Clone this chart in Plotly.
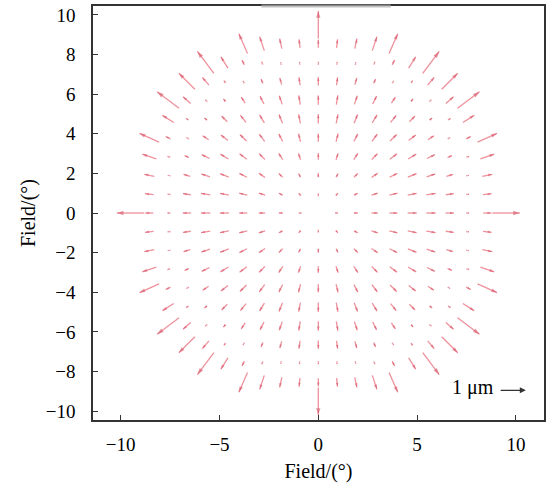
import math
import plotly.graph_objects as go

# Field sample positions (degrees) along each axis, index -10..10
field_pts = [-9.5, -8.55, -7.6, -6.65, -5.7, -4.75, -3.8, -2.85, -1.9, -0.95, 0.0,
             0.95, 1.9, 2.85, 3.8, 4.75, 5.7, 6.65, 7.6, 8.55, 9.5]

# Distortion magnitude (um), one quadrant (row |j|, column |i|)
mag_row_0 = [0.00, 0.06, 0.15, 0.24, 0.30, 0.34, 0.35, 0.31, 0.05, 0.30, 1.03]
mag_row_1 = [0.06, 0.09, 0.16, 0.25, 0.31, 0.34, 0.35, 0.30, 0.04, 0.32]
mag_row_2 = [0.15, 0.16, 0.21, 0.28, 0.32, 0.35, 0.34, 0.26, 0.03, 0.38]
mag_row_3 = [0.24, 0.25, 0.28, 0.31, 0.34, 0.35, 0.33, 0.18, 0.05, 0.55]
mag_row_4 = [0.30, 0.31, 0.32, 0.34, 0.35, 0.34, 0.27, 0.04, 0.20, 0.80]
mag_row_5 = [0.34, 0.34, 0.35, 0.35, 0.34, 0.30, 0.12, 0.07, 0.50]
mag_row_6 = [0.35, 0.35, 0.34, 0.33, 0.27, 0.12, 0.04, 0.38, 1.03]
mag_row_7 = [0.31, 0.30, 0.26, 0.18, 0.04, 0.07, 0.38, 0.85]
mag_row_8 = [0.05, 0.04, 0.03, 0.05, 0.20, 0.50, 1.03]
mag_row_9 = [0.30, 0.32, 0.38, 0.55, 0.80]
mag_row_10 = [1.03]
quadrant = [mag_row_0, mag_row_1, mag_row_2, mag_row_3, mag_row_4, mag_row_5,
            mag_row_6, mag_row_7, mag_row_8, mag_row_9, mag_row_10]

x_ticks = [-10, -5, 0, 5, 10]
y_ticks = [-10, -8, -6, -4, -2, 0, 2, 4, 6, 8, 10]
scale_bar_um = 1.0
scale_label = "1 μm"

UM_TO_DEG = 1.35  # plotted length of 1 um in field degrees
SERIF = "Times New Roman, Liberation Serif, serif"

seg_x, seg_y = [], []
head_x, head_y, head_ang, head_size = [], [], [], []
center = 10
for j in range(-10, 11):
    row = quadrant[abs(j)]
    n = len(row)
    for i in range(-(n - 1), n):
        m = row[abs(i)]
        px, py = field_pts[center + i], field_pts[center + j]
        r = math.hypot(px, py)
        if r == 0 or m <= 0:
            continue
        ux, uy = px / r, py / r
        L = m * UM_TO_DEG
        tx, ty = px - 0.5 * L * ux, py - 0.5 * L * uy
        hx, hy = px + 0.5 * L * ux, py + 0.5 * L * uy
        seg_x += [tx, hx, None]
        seg_y += [ty, hy, None]
        head_x.append(hx)
        head_y.append(hy)
        head_ang.append(math.degrees(math.atan2(ux, uy)))
        head_size.append(min(7.0, 2.8 + 3.0 * L))

fig = go.Figure()
fig.add_trace(go.Scatter(x=seg_x, y=seg_y, mode="lines",
                         line=dict(color="rgba(232,118,130,0.8)", width=1.3),
                         hoverinfo="skip", showlegend=False))
fig.add_trace(go.Scatter(x=head_x, y=head_y, mode="markers",
                         marker=dict(symbol="arrow", angle=head_ang, size=head_size,
                                     color="rgba(215,85,105,0.85)", line=dict(width=0)),
                         hoverinfo="skip", showlegend=False))

# scale bar
bar_len = scale_bar_um * UM_TO_DEG
fig.add_annotation(x=10.5, y=-8.95, ax=10.5 - bar_len, ay=-8.95, axref="x", ayref="y",
                   xref="x", yref="y", text="", showarrow=True, arrowhead=2,
                   arrowsize=1.0, arrowwidth=1.2, arrowcolor="#333333")
fig.add_annotation(x=7.85, y=-8.8, xref="x", yref="y", text=scale_label, showarrow=False,
                   font=dict(family=SERIF, size=20, color="black"))

# faint artifact bar at the top border
fig.add_shape(type="line", xref="x", yref="paper", x0=-2.88, x1=3.67, y0=1, y1=1,
              line=dict(color="rgba(170,170,170,0.7)", width=3))

axis_common = dict(showgrid=False, zeroline=False, showline=True, linecolor="#333333",
                   linewidth=1.5, mirror=True, ticks="inside", ticklen=5, tickwidth=1.2,
                   tickcolor="#333333",
                   tickfont=dict(family=SERIF, size=19, color="black"),
                   title_font=dict(family=SERIF, size=20, color="black"))

fig.update_xaxes(range=[-11.4, 11.42], tickvals=x_ticks, ticklabelstandoff=6,
                 title_text="Field/(°)", title_standoff=10, **axis_common)
fig.update_yaxes(range=[-10.45, 10.45], tickvals=y_ticks, ticklabelstandoff=12,
                 title_text="Field/(°)", title_standoff=5, **axis_common)

fig.update_layout(width=548, height=492, margin=dict(l=93, r=2, t=6, b=72),
                  paper_bgcolor="white", plot_bgcolor="white")

fig.write_html("out.html")
